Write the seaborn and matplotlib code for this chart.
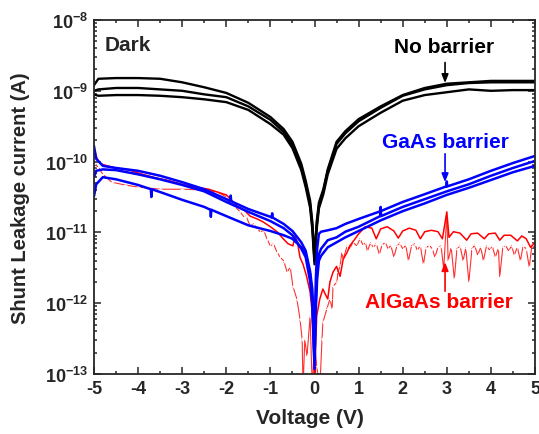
import numpy as np
import pandas as pd
import matplotlib
matplotlib.use("Agg")
import matplotlib.pyplot as plt
from matplotlib.ticker import MultipleLocator, LogLocator, NullFormatter, LogFormatterSciNotation
import seaborn as sns

# ---------------- data (log10 of current in A) ----------------
v_black = [-5, -4.9, -4.5, -4, -3.5, -3, -2.5, -2, -1.5, -1, -0.7, -0.5, -0.3, -0.2, -0.1,
           -0.05, 0, 0.05, 0.1, 0.2, 0.3, 0.5, 0.7, 1, 1.5, 2, 2.5, 3, 3.5, 4, 4.5, 5]
black_a = [-8.92, -8.83, -8.82, -8.82, -8.83, -8.88, -8.95, -9.03, -9.17, -9.37, -9.54, -9.72,
           -10.03, -10.27, -10.55, -10.85, -11.35, -10.85, -10.58, -10.39, -10.11, -9.72, -9.57,
           -9.40, -9.22, -9.06, -8.96, -8.90, -8.88, -8.86, -8.86, -8.86]
black_b = [-9.00, -8.98, -8.96, -8.96, -8.98, -9.00, -9.05, -9.09, -9.22, -9.41, -9.58, -9.77,
           -10.08, -10.32, -10.60, -10.90, -11.40, -10.90, -10.62, -10.42, -10.13, -9.75, -9.60,
           -9.43, -9.24, -9.07, -8.98, -8.92, -8.89, -8.88, -8.88, -8.88]
black_c = [-9.05, -9.07, -9.06, -9.06, -9.07, -9.09, -9.12, -9.16, -9.27, -9.47, -9.62, -9.81,
           -10.12, -10.36, -10.65, -10.95, -11.45, -10.95, -10.66, -10.46, -10.18, -9.82, -9.67,
           -9.50, -9.31, -9.14, -9.06, -9.02, -8.98, -9.00, -8.99, -8.99]

v_blue_a = [-5, -4.95, -4.8, -4.5, -4, -3.5, -3, -2.5, -2, -1.91, -1.9, -1.89, -1.5, -1, -0.97,
            -0.96, -0.95, -0.7, -0.5, -0.3, -0.2, -0.1, -0.05, 0, 0.03, 0.06, 0.1, 0.15, 0.3,
            0.5, 0.7, 1, 1.5, 2, 2.5, 2.99, 3.0, 3.01, 3.5, 4, 4.5, 5]
blue_a = [-9.78, -9.96, -10.06, -10.09, -10.13, -10.20, -10.29, -10.39, -10.53, -10.56, -10.48,
          -10.56, -10.67, -10.78, -10.79, -10.73, -10.79, -10.88, -10.98, -11.14, -11.26, -11.55,
          -11.80, -12.51, -11.66, -11.23, -11.02, -10.99, -10.97, -10.94, -10.88, -10.81, -10.70,
          -10.57, -10.46, -10.35, -10.28, -10.35, -10.25, -10.13, -10.02, -9.92]
v_blue_b = [-5, -4.95, -4.8, -4.5, -4, -3.5, -3, -2.5, -2, -1.5, -1, -0.7, -0.5, -0.3, -0.2,
            -0.1, -0.05, 0, 0.03, 0.06, 0.1, 0.15, 0.3, 0.5, 0.7, 1, 1.49, 1.5, 1.51, 2, 2.5,
            3, 3.5, 4, 4.5, 5]
blue_b = [-10.22, -10.13, -10.11, -10.12, -10.18, -10.25, -10.33, -10.42, -10.57, -10.71, -10.84,
          -10.94, -11.04, -11.23, -11.35, -11.69, -12.01, -12.93, -11.94, -11.52, -11.31, -11.23,
          -11.11, -11.07, -10.99, -10.92, -10.77, -10.64, -10.77, -10.64, -10.53, -10.42, -10.32,
          -10.20, -10.09, -9.99]
v_blue_c = [-5, -4.95, -4.8, -4.5, -4, -3.71, -3.7, -3.69, -3.5, -3, -2.5, -2.36, -2.35, -2.34,
            -2, -1.5, -1, -0.7, -0.5, -0.3, -0.2, -0.1, -0.05, 0, 0.03, 0.06, 0.1, 0.15, 0.3,
            0.5, 0.7, 1, 1.5, 2, 2.5, 3, 3.5, 4, 4.5, 5]
blue_c = [-10.49, -10.32, -10.22, -10.25, -10.33, -10.39, -10.50, -10.39, -10.43, -10.54, -10.64,
          -10.68, -10.78, -10.68, -10.77, -10.90, -10.98, -11.04, -11.09, -11.21, -11.32, -11.59,
          -11.94, -12.79, -12.08, -11.66, -11.40, -11.33, -11.21, -11.14, -11.07, -10.98, -10.83,
          -10.70, -10.59, -10.47, -10.37, -10.26, -10.15, -10.06]

v_red1 = [-5.0, -4.93, -4.85, -4.7, -4.5, -4.2, -3.9, -3.6, -3.3, -3.0, -2.7, -2.4, -2.2, -2.0,
          -1.9, -1.76, -1.6, -1.46, -1.3, -1.17, -1.0, -0.85, -0.71, -0.6, -0.49, -0.44, -0.38,
          -0.33, -0.26, -0.18, -0.1, -0.06, -0.03, 0.0, 0.05, 0.12, 0.19, 0.25, 0.3, 0.35, 0.42,
          0.5, 0.58, 0.65, 0.74, 0.8, 0.92, 1.0, 1.15, 1.3, 1.4, 1.5, 1.65, 1.8, 1.9, 2.0, 2.15,
          2.3, 2.4, 2.5, 2.65, 2.8, 2.9, 3.0, 3.05, 3.15, 3.3, 3.45, 3.55, 3.7, 3.85, 3.95, 4.1,
          4.2, 4.3, 4.45, 4.6, 4.7, 4.8, 4.9, 5.0]
red1 = [-9.82, -9.96, -10.03, -10.06, -10.09, -10.12, -10.18, -10.23, -10.27, -10.32, -10.36,
        -10.39, -10.43, -10.47, -10.53, -10.63, -10.68, -10.77, -10.81, -10.85, -10.92, -10.99,
        -11.09, -11.16, -11.19, -11.05, -11.16, -11.35, -11.45, -11.62, -11.84, -12.08, -12.51,
        -13.07, -12.18, -11.94, -11.80, -11.88, -11.94, -11.70, -11.56, -11.48, -11.62, -11.38,
        -11.28, -11.19, -11.09, -11.02, -10.92, -10.94, -11.09, -10.95, -10.92, -10.98, -11.08,
        -10.98, -10.94, -10.97, -11.09, -10.99, -10.97, -10.99, -11.09, -10.71, -11.07, -10.99,
        -11.01, -11.11, -11.02, -11.01, -11.09, -11.02, -11.01, -11.11, -11.04, -11.04, -11.12,
        -11.05, -11.09, -11.21, -11.14]

v_red2 = [-5.0, -4.9, -4.8, -4.6, -4.3, -4.0, -3.5, -3.0, -2.5, -2.2, -2.0, -1.9, -1.8, -1.7,
          -1.6, -1.55, -1.46, -1.38, -1.3, -1.23, -1.15, -1.08, -1.0, -0.93, -0.85, -0.78, -0.7,
          -0.62, -0.55, -0.49, -0.4, -0.33, -0.28, -0.26, -0.22, -0.17, -0.1, -0.05, 0.0, 0.05,
          0.12, 0.17, 0.19, 0.28, 0.35, 0.4, 0.42, 0.51, 0.53, 0.58, 0.62, 0.65, 0.74, 0.8, 0.87,
          0.96, 1.03, 1.1, 1.15, 1.2, 1.27, 1.33, 1.4, 1.47, 1.53, 1.6, 1.67, 1.73, 1.8, 1.87,
          1.93, 2.0, 2.07, 2.13, 2.2, 2.27, 2.33, 2.4, 2.47, 2.53, 2.6, 2.67, 2.73, 2.8, 2.87,
          2.93, 3.0, 3.03, 3.1, 3.17, 3.23, 3.3, 3.37, 3.43, 3.5, 3.57, 3.63, 3.7, 3.77, 3.83,
          3.9, 3.97, 4.03, 4.1, 4.17, 4.2, 4.27, 4.33, 4.4, 4.47, 4.53, 4.6, 4.67, 4.73, 4.8,
          4.87, 4.93, 5.0]
red2 = [-10.03, -10.08, -10.18, -10.29, -10.33, -10.36, -10.39, -10.39, -10.40, -10.43, -10.50,
        -10.57, -10.64, -10.70, -10.78, -10.77, -10.91, -10.88, -10.95, -10.99, -10.97, -11.09,
        -11.19, -11.16, -11.28, -11.35, -11.40, -11.56, -11.49, -11.76, -11.94, -12.22, -12.51,
        -13.21, -12.51, -12.75, -12.18, -13.21, -12.51, -12.89, -13.21, -12.51, -12.27, -12.08,
        -11.94, -12.08, -11.76, -11.70, -11.56, -11.48, -11.28, -11.38, -11.19, -11.23, -11.14,
        -11.19, -11.09, -11.18, -11.14, -11.26, -11.15, -11.21, -11.16, -11.31, -11.18, -11.14,
        -11.23, -11.18, -11.35, -11.19, -11.15, -11.23, -11.18, -11.40, -11.19, -11.16, -11.25,
        -11.19, -11.45, -11.22, -11.18, -11.23, -11.35, -11.21, -11.19, -11.52, -10.74, -11.40,
        -11.21, -11.66, -11.23, -11.19, -11.40, -11.22, -11.70, -11.23, -11.18, -11.32, -11.21,
        -11.40, -11.19, -11.25, -11.19, -11.35, -11.22, -11.63, -11.21, -11.18, -11.26, -11.19,
        -11.32, -11.21, -11.40, -11.19, -11.23, -11.49, -11.18, -11.23]

annotations = ["Dark", "No barrier", "GaAs barrier", "AlGaAs barrier"]
x_ticks = [-5, -4, -3, -2, -1, 0, 1, 2, 3, 4, 5]

# ---------------- style ----------------
sns.set_style("ticks")
plt.rcParams["font.family"] = ["Liberation Sans", "DejaVu Sans"]
plt.rcParams["font.weight"] = "bold"
plt.rcParams["axes.labelweight"] = "bold"
plt.rcParams["mathtext.fontset"] = "custom"
plt.rcParams["mathtext.rm"] = "Liberation Sans:bold"
plt.rcParams["mathtext.bf"] = "Liberation Sans:bold"
plt.rcParams["mathtext.it"] = "Liberation Sans:bold"
plt.rcParams["axes.unicode_minus"] = False

fig = plt.figure(figsize=(5.39, 4.35), dpi=100)
ax = fig.add_axes([0.1744, 0.1379, 0.8182, 0.8138])

def draw(v, logs, color, lw, **kw):
    df = pd.DataFrame({"V": v, "I": np.power(10.0, np.array(logs))})
    sns.lineplot(data=df, x="V", y="I", ax=ax, color=color, linewidth=lw,
                 sort=False, estimator=None, **kw)

for arr in (black_a, black_b, black_c):
    draw(v_black, arr, "black", 1.7)
draw(v_red2, red2, "#ff3030", 0.8, marker="+", markersize=2.5, markeredgewidth=0.6)
draw(v_red1, red1, "#ff0000", 1.1)
for v, arr in ((v_blue_a, blue_a), (v_blue_b, blue_b), (v_blue_c, blue_c)):
    draw(v, arr, "#0000ff", 1.8)

ax.set_yscale("log")
ax.set_xlim(-5, 5)
ax.set_ylim(1e-13, 1e-8)
ax.set_xticks(x_ticks)
ax.xaxis.set_minor_locator(MultipleLocator(0.5))
ax.yaxis.set_major_locator(LogLocator(base=10, numticks=10))
ax.yaxis.set_minor_locator(LogLocator(base=10, subs=np.arange(2, 10), numticks=20))
ax.yaxis.set_major_formatter(LogFormatterSciNotation())
ax.yaxis.set_minor_formatter(NullFormatter())
ax.tick_params(which="both", direction="in", top=True, right=True, width=1.1)
ax.tick_params(which="major", length=5, labelsize=13, pad=4)
ax.tick_params(which="minor", length=2.5)
for lab in ax.get_xticklabels():
    lab.set_fontweight("bold")
for s in ax.spines.values():
    s.set_linewidth(1.3)

ax.set_xlabel("Voltage (V)", fontsize=15, fontweight="bold")
ax.set_ylabel("Shunt Leakage current (A)", fontsize=14.5, fontweight="bold")
ax.xaxis.set_label_coords(0.49, -0.095)
ax.yaxis.set_label_coords(-0.145, 0.5)

ax.text(-4.75, 10**-8.35, annotations[0], fontsize=15, fontweight="bold", ha="left", va="center")
ax.text(2.94, 10**-8.38, annotations[1], fontsize=15, fontweight="bold", ha="center", va="center", color="black")
ax.text(2.96, 10**-9.72, annotations[2], fontsize=15, fontweight="bold", ha="center", va="center", color="#0000ff")
ax.text(2.82, 10**-11.97, annotations[3], fontsize=15, fontweight="bold", ha="center", va="center", color="#ff0000")

arrow_kw = dict(arrowstyle="-|>,head_length=0.5,head_width=0.2", lw=1.2, shrinkA=0, shrinkB=0)
ax.annotate("", xy=(2.96, 10**-8.89), xytext=(2.96, 10**-8.60), arrowprops=dict(color="black", **arrow_kw))
ax.annotate("", xy=(2.96, 10**-10.29), xytext=(2.96, 10**-9.89), arrowprops=dict(color="#0000ff", **arrow_kw))
ax.annotate("", xy=(2.96, 10**-11.42), xytext=(2.96, 10**-11.83), arrowprops=dict(color="#ff0000", **arrow_kw))

fig.savefig("out.png", dpi=100)
